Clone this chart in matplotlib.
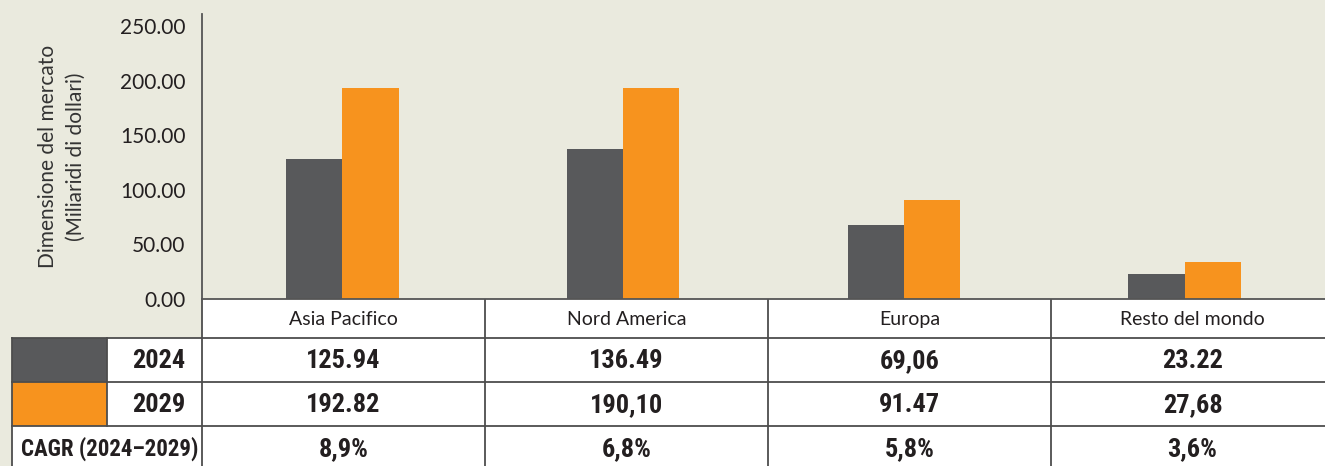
import matplotlib
matplotlib.use('Agg')
import matplotlib.pyplot as plt
from matplotlib.patches import Rectangle

# dati
regioni = ['Asia Pacifico', 'Nord America', 'Europa', 'Resto del mondo']
anni = ['2024', '2029']
valori_2024 = [128, 137, 68, 23]
valori_2029 = [193, 193, 91, 34]
tab_2024 = ['125.94', '136.49', '69,06', '23.22']
tab_2029 = ['192.82', '190,10', '91.47', '27,68']
tab_cagr = ['8,9%', '6,8%', '5,8%', '3,6%']
yticks = [0, 50, 100, 150, 200, 250]

bg = '#eaeade'
grigio = '#58595b'
arancio = '#f7931e'
linea = '#4d4d4d'
testo = '#231f20'
font_num = ['Roboto Condensed', 'DejaVu Sans']
font_txt = ['Lato', 'DejaVu Sans']

W, H = 1325, 466
fig = plt.figure(figsize=(W / 100, H / 100), dpi=100, facecolor=bg)

# tabella in coordinate pixel
axt = fig.add_axes([0, 0, 1, 1])
axt.set_xlim(0, W)
axt.set_ylim(H, 0)
axt.axis('off')

x0, x_sw, x_lab = 12, 107, 202
col_w = 283
righe = [299, 338, 382, 426, 470]
cols = [x_lab + i * col_w for i in range(len(regioni) + 1)]
cols[-1] = W + 10

# celle bianche
axt.add_patch(Rectangle((x_lab, righe[0]), W - x_lab + 10, righe[-1] - righe[0],
                        facecolor='white', edgecolor='none'))
axt.add_patch(Rectangle((x0, righe[1]), x_lab - x0, righe[-1] - righe[1],
                        facecolor='white', edgecolor='none'))
axt.add_patch(Rectangle((x0, righe[1]), x_sw - x0, righe[2] - righe[1],
                        facecolor=grigio, edgecolor='none'))
axt.add_patch(Rectangle((x0, righe[2]), x_sw - x0, righe[3] - righe[2],
                        facecolor=arancio, edgecolor='none'))

lw = 1.3
for y in righe[1:4]:
    axt.plot([x0, W], [y, y], color=linea, lw=lw)
for x in cols[:-1]:
    axt.plot([x, x], [righe[0], righe[-1]], color=linea, lw=lw)
axt.plot([x0, x0], [righe[1], righe[-1]], color=linea, lw=lw)
axt.plot([x_sw, x_sw], [righe[1], righe[3]], color=linea, lw=lw)

def cy(i):
    return (righe[i] + righe[i + 1]) / 2

for i, r in enumerate(regioni):
    cx = (cols[i] + cols[i] + col_w) / 2
    axt.text(cx, cy(0) + 1, r, ha='center', va='center', fontsize=14,
             family=font_txt, color=testo)
    for j, tab in enumerate([tab_2024, tab_2029, tab_cagr]):
        axt.text(cx, cy(j + 1) + 1, tab[i], ha='center', va='center', fontsize=19,
                 family=font_num, weight='bold', color=testo)

for j, a in enumerate(anni):
    axt.text((x_sw + x_lab) / 2 + 4, cy(j + 1) + 1, a, ha='center', va='center',
             fontsize=19, family=font_num, weight='bold', color=testo)
axt.text((x0 + x_lab) / 2 + 3, cy(3) + 1, 'CAGR (2024–2029)', ha='center', va='center',
         fontsize=16.5, family=font_num, weight='bold', color=testo)

# grafico a barre
ax = fig.add_axes([x_lab / W, (H - 299) / H, (W - x_lab) / W, (299 - 14) / H])
ax.set_facecolor(bg)
pos = list(range(len(regioni)))
bw = 0.2
ax.bar([p - bw / 2 for p in pos], valori_2024, bw, color=grigio, zorder=2)
ax.bar([p + bw / 2 for p in pos], valori_2029, bw, color=arancio, zorder=2)
ax.set_xlim(-0.5, len(regioni) - 0.5)
ax.set_ylim(0, 261)
ax.set_xticks([])
ax.set_yticks(yticks)
ax.set_yticklabels([f'{v:.2f}' for v in yticks], family=font_txt, fontsize=15, color=testo)
ax.tick_params(axis='y', length=0, pad=12)
for s in ['top', 'right']:
    ax.spines[s].set_visible(False)
ax.spines['left'].set_color('#555555')
ax.spines['left'].set_linewidth(1.3)
ax.spines['bottom'].set_color('#555555')
ax.spines['bottom'].set_linewidth(1.3)
ax.set_ylabel('Dimensione del mercato\n(Miliaridi di dollari)', family=font_txt,
              fontsize=15, color='#333333', linespacing=1.5)
ax.yaxis.set_label_coords(-0.103, 0.5)

fig.savefig('out.png', dpi=100, facecolor=bg)
